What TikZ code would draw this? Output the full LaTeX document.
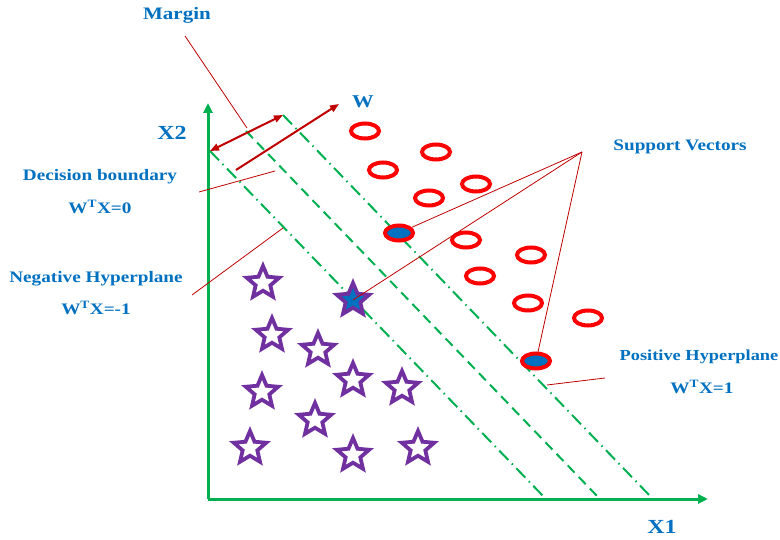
\documentclass[tikz,border=0pt]{standalone}
\usepackage{fontspec}
\newfontfamily\lblfont{Liberation Serif}[FakeStretch=1.2]
\usepackage{tikz}
\usetikzlibrary{arrows.meta,positioning,shapes.geometric}
\definecolor{lblblue}{HTML}{0070C0}
\definecolor{axgreen}{HTML}{00B050}
\definecolor{ptred}{HTML}{FF0000}
\definecolor{arrred}{HTML}{C00000}
\definecolor{starpurple}{HTML}{7030A0}
\tikzset{
  lab/.style={font=\lblfont\bfseries\fontsize{16}{19}\selectfont,text=lblblue,inner sep=0pt},
  biglab/.style={lab,font=\lblfont\bfseries\fontsize{20}{23}\selectfont},
  axis/.style={line width=3pt,draw=axgreen,-{Triangle[length=10pt,width=9pt]}},
  hyp/.style={line width=2pt,draw=axgreen,dash pattern=on 13pt off 5pt on 1.5pt off 5pt},
  midhyp/.style={line width=2pt,draw=axgreen,dash pattern=on 10pt off 6pt},
  posv/.style={ellipse,draw=ptred,line width=4pt,fill=white,minimum width=28pt,minimum height=15pt,inner sep=0pt},
  svpos/.style={posv,fill=lblblue},
  negv/.style={star,star points=5,star point ratio=2.2,draw=starpurple,line width=3.8pt,fill=white,minimum size=34pt,inner sep=0pt},
  svneg/.style={negv,fill=lblblue},
  vec/.style={line width=2pt,draw=arrred,-{Triangle[length=9pt,width=7pt]}},
  ptr/.style={line width=0.8pt,draw=red!75!black}
}

\begin{document}
\begin{tikzpicture}[x=1pt,y=-1pt]
  \useasboundingbox (0,0) rectangle (780,540);

  % axes
  \coordinate (O) at (208,499);
  \coordinate (ytip) at (208,103);
  \coordinate (xtip) at (708,499);
  \draw[axis] (O)--(ytip);
  \draw[axis] (O)--(xtip);
  \node[biglab] (x2) at (172,133) {X2};
  \node[biglab] (x1) at (662,527) {X1};

  % hyperplanes
  \coordinate (h1a) at (210,151);  \coordinate (h1b) at (545,498);
  \coordinate (h0a) at (246,131);  \coordinate (h0b) at (599,498);
  \coordinate (h2a) at (283,115);  \coordinate (h2b) at (652,498);
  \draw[hyp] (h1a)--(h1b);
  \draw[midhyp] (h0a)--(h0b);
  \draw[hyp] (h2a)--(h2b);

  % margin and normal vector
  \draw[vec,{Triangle[length=9pt,width=7pt]}-{Triangle[length=9pt,width=7pt]}] (h1a)--(h2a);
  \coordinate (wa) at (236,170);
  \coordinate (wb) at (339,104);
  \draw[vec] (wa)--(wb);
  \node[lab,font=\lblfont\bfseries\fontsize{18}{21}\selectfont] (wlab) at (363,102) {W};

  % positive class
  \foreach \x/\y [count=\i] in {365/131,436/152,383/170,476/184,429/198,466/240,531/255,480/276,528/303,588/318}
    \node[posv] (p\i) at (\x,\y) {};
  \node[svpos] (sv1) at (399,233) {};
  \node[svpos] (sv2) at (536,361) {};

  % negative class
  \foreach \x/\y [count=\i] in {263/283,272/335,318/350,353/380,262/392,315/420,250/448,353/455,402/388,418/448}
    \node[negv] (n\i) at (\x,\y) {};
  \node[svneg] (sv3) at (353,300) {};

  % labels and pointers
  \node[lab,font=\lblfont\bfseries\fontsize{17.5}{21}\selectfont] (marg) at (177,15) {Margin};
  \coordinate (m1) at (185,36);  \coordinate (m2) at (247,128);
  \draw[ptr] (m1)--(m2);

  \node[lab] (dec) at (100,177) {Decision boundary};
  \node[lab] (dec2) at (100,207) {W\textsuperscript{T}X=0};
  \coordinate (d1) at (199,192);  \coordinate (d2) at (275,171);
  \draw[ptr] (d1)--(d2);

  \node[lab] (neg) at (96,279) {Negative Hyperplane};
  \node[lab] (neg2) at (96,308) {W\textsuperscript{T}X=-1};
  \coordinate (g1) at (192,295);  \coordinate (g2) at (283,228);
  \draw[ptr] (g1)--(g2);

  \node[lab,font=\lblfont\bfseries\fontsize{15.3}{19}\selectfont] (pos) at (699,357) {Positive Hyperplane};
  \node[lab] (pos2) at (702,387) {W\textsuperscript{T}X=1};
  \coordinate (q1) at (547,385);  \coordinate (q2) at (605,378);
  \draw[ptr] (q1)--(q2);

  \node[lab] (supp) at (680,147) {Support Vectors};
  \coordinate (stip) at (582,152);
  \draw[ptr] (stip)--(sv1);
  \draw[ptr] (stip)--(sv3.center);
  \draw[ptr] (stip)--(sv2);
\end{tikzpicture}
\end{document}
